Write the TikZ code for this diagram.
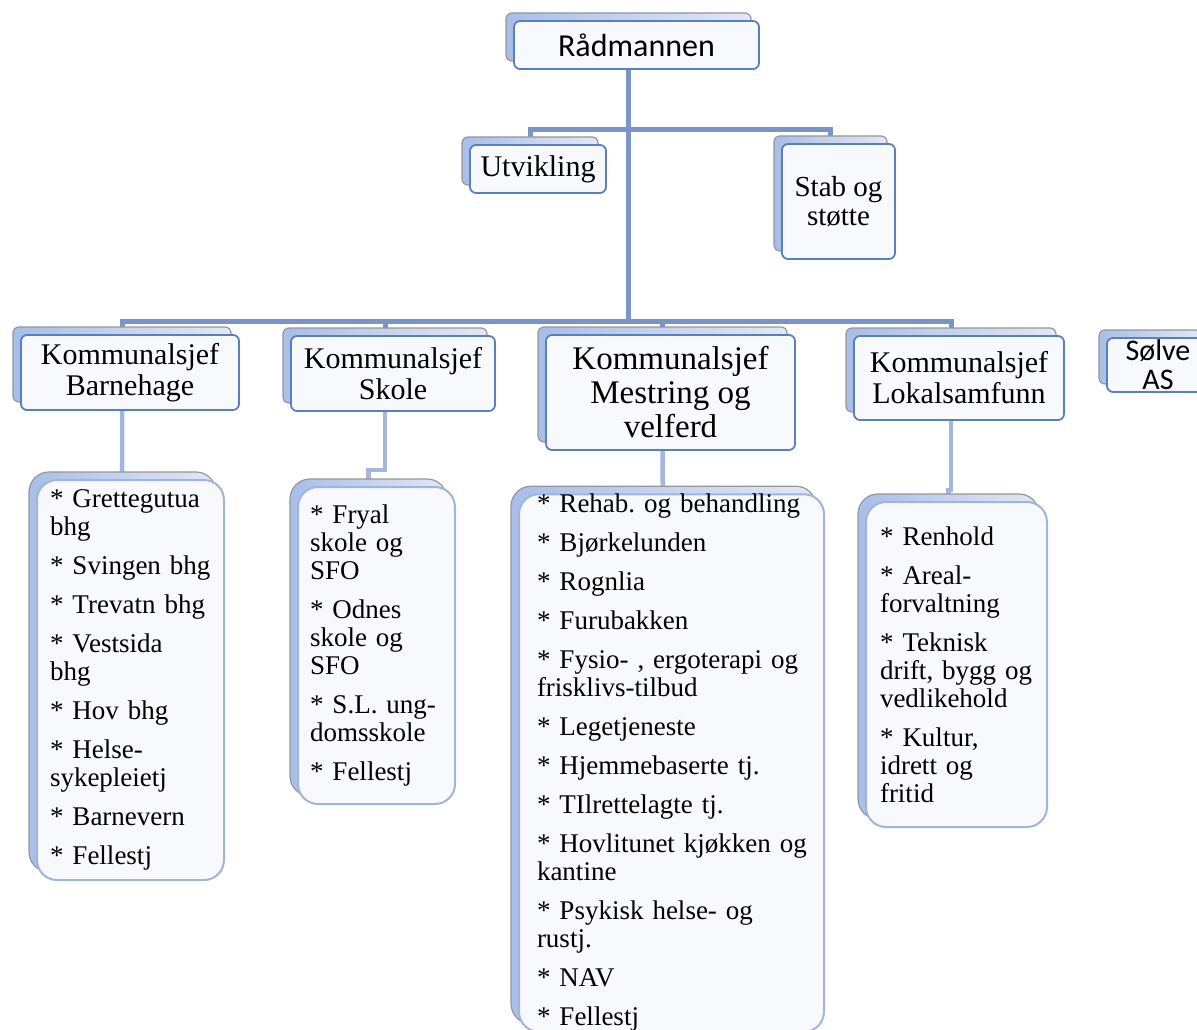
\documentclass[tikz,border=0pt]{standalone}
\usepackage{fontspec}
\setmainfont{Liberation Serif}
\newfontfamily\calfont{Carlito}
\usetikzlibrary{shadows,backgrounds}

\definecolor{trunkblue}{RGB}{120,148,200}
\definecolor{twigblue}{RGB}{165,182,218}
\definecolor{edgeblue}{RGB}{88,128,192}
\definecolor{listblue}{RGB}{160,180,222}
\definecolor{backgray}{RGB}{150,150,155}
\definecolor{backblue}{RGB}{168,190,232}
\definecolor{backpale}{RGB}{226,232,244}
\definecolor{frontfill}{RGB}{248,249,253}

\begin{document}
\begin{tikzpicture}[x=1pt,y=-1pt,
  headbox/.style={draw=edgeblue, line width=1.8pt, fill=frontfill, rounded corners=6pt,
    inner sep=0pt, align=center, font=\fontsize{30}{31}\selectfont,
    copy shadow={shadow xshift=-8pt, shadow yshift=8pt, draw=backgray, line width=1.2pt,
      left color=backblue, right color=backpale}},
  listbox/.style={draw=listblue, line width=2pt, fill=frontfill, rounded corners=20pt,
    inner ysep=0pt, align=left, font=\fontsize{27}{28}\selectfont\frenchspacing,
    copy shadow={shadow xshift=-8pt, shadow yshift=8pt, draw=backgray, line width=1.2pt,
      left color=backblue, right color=backpale}},
  trunk/.style={trunkblue, line width=5pt},
  twig/.style={twigblue, line width=4.5pt}]
\useasboundingbox (0,0) rectangle (1197,1030);
\clip (0,0) rectangle (1197,1030);

% top level
\node[headbox, minimum width=245pt, minimum height=48pt, font=\calfont\fontsize{32}{34}\selectfont]
  (rad) at (636.5,45) {Rådmannen};
\node[headbox, minimum width=136pt, minimum height=48pt] (utv) at (538,169) {Utvikling};
\node[headbox, minimum width=113pt, minimum height=115pt, font=\fontsize{29}{29}\selectfont]
  (stab) at (838.5,201.5) {Stab og\\støtte};

% kommunalsjefer
\node[headbox, minimum width=218pt, minimum height=75pt] (kbh) at (130,372.5) {Kommunalsjef\\Barnehage};
\node[headbox, minimum width=204pt, minimum height=75pt] (ksk) at (393,373.5) {Kommunalsjef\\Skole};
\node[headbox, minimum width=249pt, minimum height=115pt, font=\fontsize{33}{34}\selectfont]
  (kmv) at (670.5,392.5) {Kommunalsjef\\Mestring og\\velferd};
\node[headbox, minimum width=210pt, minimum height=84pt] (kls) at (959,378) {Kommunalsjef\\Lokalsamfunn};
\node[headbox, minimum width=102pt, minimum height=54pt, font=\calfont\fontsize{30}{29}\selectfont]
  (solve) at (1158,365) {Sølve\\AS};

% tjenester
\node[listbox, minimum width=187pt, minimum height=400pt, inner xsep=13pt, text width=161pt]
  (lbh) at (130.5,680) {* Grettegutua\\bhg\\[11pt]* Svingen bhg\\[11pt]* Trevatn bhg\\[11pt]%
  * Vestsida\\bhg\\[11pt]* Hov bhg\\[11pt]* Helse-\\sykepleietj\\[11pt]* Barnevern\\[11pt]* Fellestj};
\node[listbox, minimum width=157pt, minimum height=317pt, inner xsep=12pt, text width=133pt]
  (lsk) at (376.5,645.5) {* Fryal\\skole og\\SFO\\[11pt]* Odnes\\skole og\\SFO\\[11pt]%
  * S.L. ung-\\domsskole\\[11pt]* Fellestj};
\node[listbox, minimum width=305pt, minimum height=532pt, inner xsep=18pt, text width=269pt]
  (lmv) at (671.5,763) {* Rehab. og behandling\\[11pt]* Bjørkelunden\\[11pt]* Rognlia\\[11pt]%
  * Furubakken\\[11pt]* Fysio- , ergoterapi og\\frisklivs-tilbud\\[11pt]* Legetjeneste\\[11pt]%
  * Hjemmebaserte tj.\\[11pt]* TIlrettelagte tj.\\[11pt]\mbox{* Hovlitunet kjøkken og}\\kantine\\[11pt]%
  * Psykisk helse- og\\rustj.\\[11pt]* NAV\\[11pt]* Fellestj};
\node[listbox, minimum width=181pt, minimum height=325pt, inner xsep=14pt, text width=153pt]
  (lls) at (956.5,664.5) {* Renhold\\[11pt]* Areal-\\forvaltning\\[11pt]* Teknisk\\drift, bygg og\\vedlikehold\\[11pt]%
  * Kultur,\\idrett og\\fritid};

% connector points (centres of the back boxes)
\coordinate (upbar) at (0,130);
\coordinate (bar) at (0,321);
\coordinate (skjog) at (0,470);
\coordinate (lsjog) at (0,490);
\coordinate (radc) at ([xshift=-8pt]rad.center);
\coordinate (utvc) at ([xshift=-8pt]utv.center);
\coordinate (stabc) at ([xshift=-8pt]stab.center);
\coordinate (kbhc) at ([xshift=-8pt]kbh.center);
\coordinate (kskc) at ([xshift=-8pt]ksk.center);
\coordinate (kmvc) at ([xshift=-8pt]kmv.center);
\coordinate (klsc) at ([xshift=-8pt]kls.center);
\coordinate (lbhc) at ([xshift=-8pt]lbh.center);
\coordinate (lskc) at ([xshift=-8pt]lsk.center);
\coordinate (lmvc) at ([xshift=-8pt]lmv.center);
\coordinate (llsc) at ([xshift=-8pt]lls.center);

\begin{scope}[on background layer]
\draw[trunk] (radc) -- (radc |- bar);
\draw[trunk] (utvc) -- (utvc |- upbar) -- (stabc |- upbar) -- (stabc);
\draw[trunk] (kbhc) -- (kbhc |- bar) -- (klsc |- bar) -- (klsc);
\draw[trunk] (kskc) -- (kskc |- bar);
\draw[trunk] (kmvc) -- (kmvc |- bar);
\draw[twig] (kbhc) -- (lbhc);
\draw[twig] (kskc) -- (kskc |- skjog) -| (lskc);
\draw[twig] (kmvc) -- (lmvc);
\draw[twig] (klsc) -- (klsc |- lsjog) -| (llsc);
\end{scope}
\end{tikzpicture}
\end{document}
